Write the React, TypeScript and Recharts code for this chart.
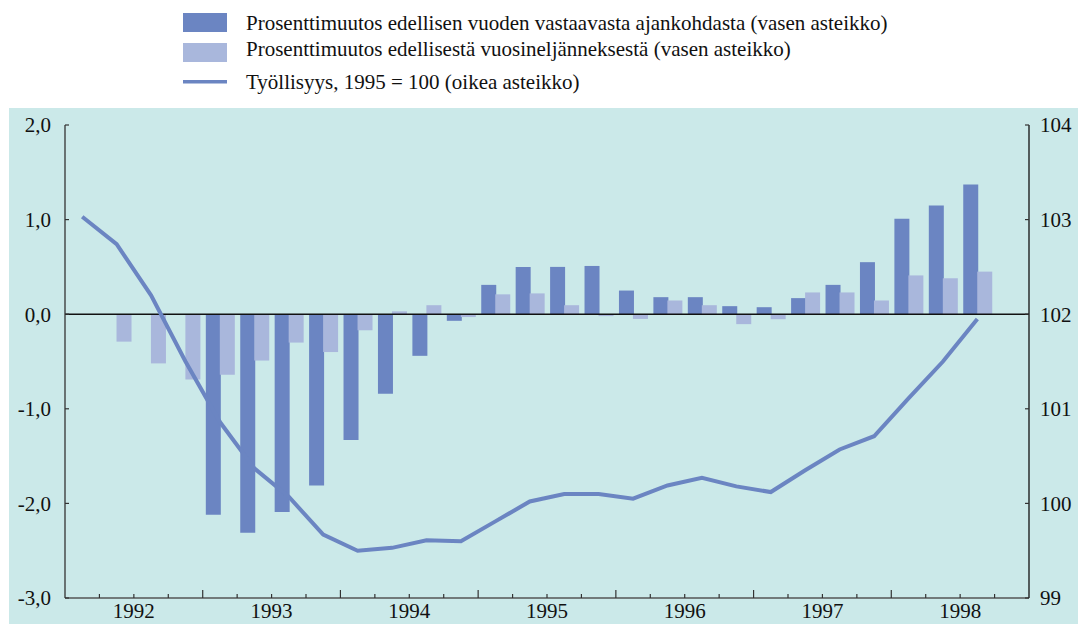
import React from 'react';
import { ComposedChart, Bar, Line, XAxis, YAxis, ReferenceLine } from 'recharts';

// page fills the whole window, chart background reaches the edges
document.body.style.margin = '0';

const quarters = [
  '1992Q1', '1992Q2', '1992Q3', '1992Q4',
  '1993Q1', '1993Q2', '1993Q3', '1993Q4',
  '1994Q1', '1994Q2', '1994Q3', '1994Q4',
  '1995Q1', '1995Q2', '1995Q3', '1995Q4',
  '1996Q1', '1996Q2', '1996Q3', '1996Q4',
  '1997Q1', '1997Q2', '1997Q3', '1997Q4',
  '1998Q1', '1998Q2', '1998Q3', '1998Q4',
];

// Prosenttimuutos edellisen vuoden vastaavasta ajankohdasta
const yearOnYear = [
  null, null, null, null,
  -2.12, -2.31, -2.09, -1.81,
  -1.33, -0.84, -0.44, -0.07,
  0.31, 0.5, 0.5, 0.51,
  0.25, 0.18, 0.18, 0.085,
  0.074, 0.17, 0.31, 0.55,
  1.01, 1.15, 1.37, null,
];

// Prosenttimuutos edellisestä vuosineljänneksestä
const quarterOnQuarter = [
  null, -0.29, -0.52, -0.69,
  -0.64, -0.49, -0.3, -0.4,
  -0.17, 0.03, 0.095, -0.03,
  0.21, 0.22, 0.095, -0.02,
  -0.05, 0.145, 0.095, -0.105,
  -0.053, 0.23, 0.23, 0.145,
  0.41, 0.38, 0.45, null,
];

// Työllisyys, 1995 = 100
const employment = [
  103.03, 102.74, 102.2, 101.5,
  100.86, 100.37, 100.07, 99.67,
  99.5, 99.53, 99.61, 99.6,
  99.81, 100.02, 100.1, 100.1,
  100.05, 100.19, 100.27, 100.18,
  100.12, 100.35, 100.57, 100.71,
  101.11, 101.5, 101.95, null,
];

const leftTicks = [-3, -2, -1, 0, 1, 2];
const rightTicks = [99, 100, 101, 102, 103, 104];

const legendItems = [
  'Prosenttimuutos edellisen vuoden vastaavasta ajankohdasta (vasen asteikko)',
  'Prosenttimuutos edellisestä vuosineljänneksestä (vasen asteikko)',
  'Työllisyys, 1995 = 100 (oikea asteikko)',
];

const data = quarters.map((q, i) => ({
  q,
  yoy: yearOnYear[i],
  qoq: quarterOnQuarter[i],
  emp: employment[i],
}));

const DARK = '#6b85c2';
const LIGHT = '#a9b7dc';
const BG = '#cbe9e9';
const AXIS = '#333';
const FONT = 'Liberation Serif';

const fmtLeft = (v: number) => v.toFixed(1).replace('.', ',');

const LeftTick = (props: any) => {
  const { x, y, payload } = props;
  return (
    <g>
      <line x1={x} x2={x + 4} y1={y} y2={y} stroke={AXIS} strokeWidth={1.2} />
      <text x={x - 14} y={y} dy="0.35em" textAnchor="end" style={{ fontFamily: FONT, fontSize: 21 }} fill="#111">
        {fmtLeft(payload.value)}
      </text>
    </g>
  );
};

const RightTick = (props: any) => {
  const { x, y, payload } = props;
  return (
    <g>
      <line x1={x - 4} x2={x} y1={y} y2={y} stroke={AXIS} strokeWidth={1.2} />
      <text x={x + 11} y={y} dy="0.35em" textAnchor="start" style={{ fontFamily: FONT, fontSize: 21 }} fill="#111">
        {payload.value}
      </text>
    </g>
  );
};

// quarter ticks point inwards, year labels sit in the middle of each year
const QuarterTick = (props: any) => {
  const { x, y, payload, index } = props;
  const half = payload && payload.offset ? payload.offset : 17.2;
  const left = x - half;
  const isYearStart = index % 4 === 0;
  const year = String(payload.value).slice(0, 4);
  return (
    <g>
      {index > 0 && (
        <line x1={left} x2={left} y1={y} y2={y - (isYearStart ? 8 : 4)} stroke={AXIS} strokeWidth={1.2} />
      )}
      {index % 4 === 2 && (
        <text x={left} y={y + 20} textAnchor="middle" style={{ fontFamily: FONT, fontSize: 21 }} fill="#111">
          {year}
        </text>
      )}
    </g>
  );
};

const Legend = () => (
  <svg width={1078} height={108} style={{ position: 'absolute', left: 0, top: 0, fontFamily: FONT }}>
    <rect x={183} y={13} width={44} height={19} fill={DARK} />
    <text x={246} y={30} fontSize={21} fill="#111">{legendItems[0]}</text>
    <rect x={183} y={43} width={44} height={19} fill={LIGHT} />
    <text x={246} y={56} fontSize={21} fill="#111">{legendItems[1]}</text>
    <rect x={183} y={80} width={44} height={3.5} fill={DARK} />
    <text x={246} y={89} fontSize={21} fill="#111">{legendItems[2]}</text>
  </svg>
);

export default function App() {
  return (
    <div style={{ position: 'relative', width: 1078, height: 624, background: '#fff', overflow: 'hidden', fontFamily: FONT }}>
      <Legend />
      <div style={{ position: 'absolute', left: 9, top: 108, width: 1069, height: 516, background: BG }}>
        <ComposedChart
          width={1069}
          height={516}
          data={data}
          margin={{ top: 17, right: 0, bottom: 0, left: 0 }}
          barCategoryGap="9%"
          barGap={-1}
        >
          <XAxis
            dataKey="q"
            interval={0}
            height={26}
            tickSize={0}
            tickMargin={0}
            tickLine={false}
            axisLine={{ stroke: '#555', strokeWidth: 1.5 }}
            tick={QuarterTick}
          />
          <YAxis
            yAxisId="left"
            orientation="left"
            width={56}
            domain={[-3, 2]}
            ticks={leftTicks}
            tickSize={0}
            tickMargin={0}
            tickLine={false}
            axisLine={{ stroke: AXIS, strokeWidth: 1.3 }}
            tick={LeftTick}
          />
          <YAxis
            yAxisId="right"
            orientation="right"
            width={49}
            domain={[99, 104]}
            ticks={rightTicks}
            tickSize={0}
            tickMargin={0}
            tickLine={false}
            axisLine={{ stroke: '#111', strokeWidth: 1.3 }}
            tick={RightTick}
          />
          <ReferenceLine yAxisId="left" y={0} stroke="#111" strokeWidth={1.5} />
          <Bar yAxisId="left" dataKey="yoy" fill={DARK} isAnimationActive={false} />
          <Bar yAxisId="left" dataKey="qoq" fill={LIGHT} isAnimationActive={false} />
          <Line
            yAxisId="right"
            type="linear"
            dataKey="emp"
            stroke={DARK}
            strokeWidth={4}
            dot={false}
            activeDot={false}
            connectNulls={false}
            isAnimationActive={false}
          />
        </ComposedChart>
      </div>
    </div>
  );
}
